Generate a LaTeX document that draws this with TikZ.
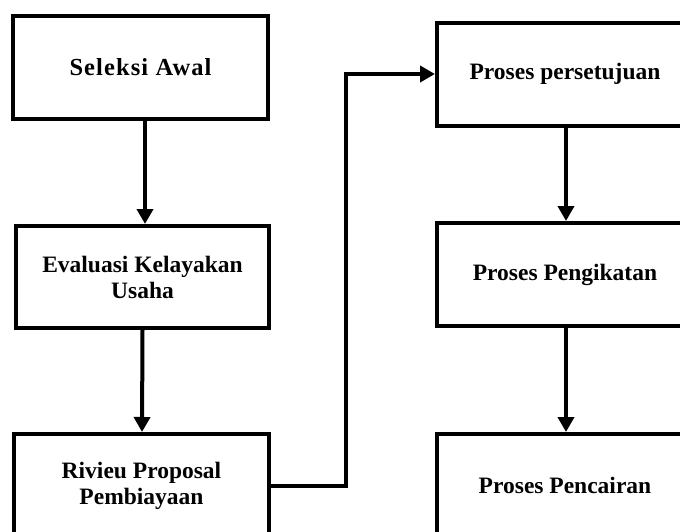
\documentclass[tikz,border=0pt]{standalone}
\usepackage{fontspec}
\setmainfont{Liberation Serif}
\usetikzlibrary{arrows.meta}
\begin{document}
\begin{tikzpicture}[x=1pt,y=-1pt,
  box/.style={draw=black,line width=4pt,minimum width=255pt,minimum height=103pt,
    align=center,inner sep=0pt,font=\bfseries\fontsize{23.5}{26}\selectfont},
  arr/.style={line width=4pt,-{Triangle[length=15pt,width=16pt]}},
  conn/.style={line width=4pt}]
\useasboundingbox (0,0) rectangle (680,531);
\clip (0,0) rectangle (680,531);
\fill[white] (0,0) rectangle (680,531);
\node[box] (b1) at (140.5,67.5) {\fontsize{24.5}{27}\selectfont\addfontfeatures{LetterSpace=4.5}Seleksi Awal};
\node[box,minimum width=253pt,minimum height=102pt] (b2) at (142.5,277) {Evaluasi Kelayakan\\Usaha};
\node[box] (b3) at (141.5,485.5) {Rivieu Proposal\\Pembiayaan};
\node[box,minimum width=256pt] (b4) at (565,74) {Proses persetujuan};
\node[box,minimum width=256pt] (b5) at (565,274.5) {Proses Pengikatan};
\node[box,minimum width=256pt] (b6) at (565,485.5) {Proses Pencairan};
\draw[arr] ([xshift=4.5pt]b1.south) -- ([xshift=2.5pt]b2.north);
\draw[arr] (b2.south) -- ([xshift=0.5pt]b3.north);
\draw[arr] (b3.east) -- ++(75,0) coordinate (k) |- (b4.west);
\draw[arr] ([xshift=1pt]b4.south) -- ([xshift=1pt]b5.north);
\draw[arr] ([xshift=1pt]b5.south) -- ([xshift=1pt]b6.north);
\end{tikzpicture}
\end{document}
